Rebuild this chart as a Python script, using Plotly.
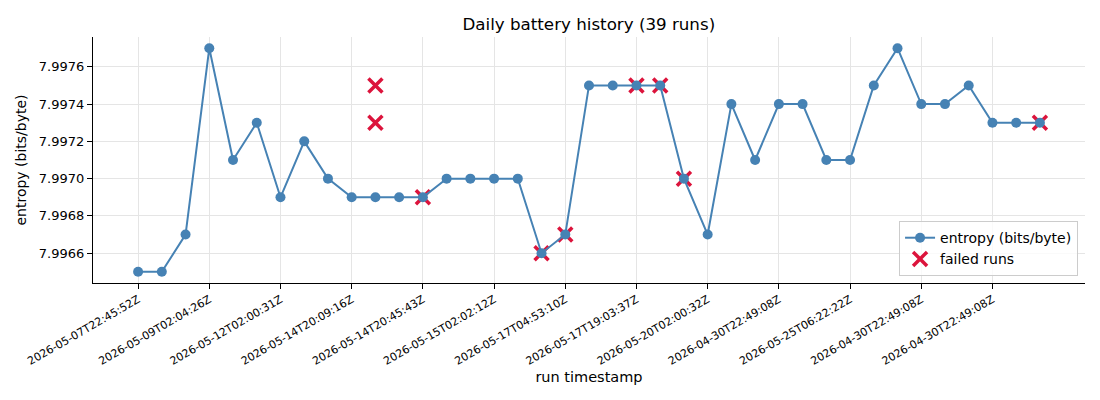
import plotly.graph_objs as go

# run index -> entropy reading
run_idx = list(range(39))
entropy = [7.99650, 7.99650, 7.99670, 7.99770, 7.99710, 7.99730, 7.99690, 7.99720,
           7.99700, 7.99690, 7.99690, 7.99690, 7.99690, 7.99700, 7.99700, 7.99700,
           7.99700, 7.99660, 7.99670, 7.99750, 7.99750, 7.99750, 7.99750, 7.99700,
           7.99670, 7.99740, 7.99710, 7.99740, 7.99740, 7.99710, 7.99710, 7.99750,
           7.99770, 7.99740, 7.99740, 7.99750, 7.99730, 7.99730, 7.99730]

# failed runs
failed_idx = [10, 10, 12, 17, 18, 21, 22, 23, 38]
failed_entropy = [7.99750, 7.99730, 7.99690, 7.99660, 7.99670, 7.99750, 7.99750,
                  7.99700, 7.99730]

tick_idx = list(range(0, 39, 3))
tick_labels = ["2026-05-07T22:45:52Z", "2026-05-09T02:04:26Z", "2026-05-12T02:00:31Z",
               "2026-05-14T20:09:16Z", "2026-05-14T20:45:43Z", "2026-05-15T02:02:12Z",
               "2026-05-17T04:53:10Z", "2026-05-17T19:03:37Z", "2026-05-20T02:00:32Z",
               "2026-04-30T22:49:08Z", "2026-05-25T06:22:22Z", "2026-04-30T22:49:08Z",
               "2026-04-30T22:49:08Z"]


def main():
    fig = go.Figure()

    # crosses first so the line markers sit on top
    fig.add_trace(go.Scatter(x=failed_idx, y=failed_entropy, name="failed runs",
                             mode="markers", legendrank=2,
                             marker=dict(symbol="x-thin", size=14, color="crimson",
                                         line=dict(width=3.5, color="crimson"))))
    fig.add_trace(go.Scatter(x=run_idx, y=entropy, name="entropy (bits/byte)",
                             mode="lines+markers", legendrank=1,
                             line=dict(color="steelblue", width=2),
                             marker=dict(size=10, color="steelblue")))

    axis_common = dict(showline=True, linecolor="black", linewidth=1.2,
                       ticks="outside", ticklen=5, tickcolor="black",
                       showgrid=True, gridcolor="#e5e5e5", gridwidth=1,
                       zeroline=False, mirror=False, automargin=False)

    # page body has an 8px margin, so the margins are shifted to compensate
    fig.update_layout(
        width=1100, height=400,
        margin=dict(l=85, r=23, t=29, b=125),
        plot_bgcolor="white", paper_bgcolor="white",
        font=dict(family="DejaVu Sans", size=13, color="black"),
        title=dict(text="Daily battery history (39 runs)", x=0.528, xanchor="center",
                   y=0.96, yanchor="middle", font=dict(size=16.7)),
        xaxis=dict(range=[-1.9, 39.9], tickvals=tick_idx, ticktext=tick_labels,
                   tickangle=-30, tickfont=dict(size=11),
                   title=dict(text="run timestamp", font=dict(size=14.5), standoff=4),
                   **axis_common),
        yaxis=dict(range=[7.99644, 7.99776], tick0=7.9966, dtick=0.0002,
                   tickformat=".4f", tickfont=dict(size=13),
                   title=dict(text="entropy (bits/byte)", font=dict(size=14), standoff=8),
                   **axis_common),
        legend=dict(x=0.993, xanchor="right", y=0.028, yanchor="bottom",
                    bgcolor="rgba(255,255,255,0.8)", bordercolor="#cccccc",
                    borderwidth=1, font=dict(size=14)),
        showlegend=True,
    )

    fig.write_html("out.html")


if __name__ == "__main__":
    main()
